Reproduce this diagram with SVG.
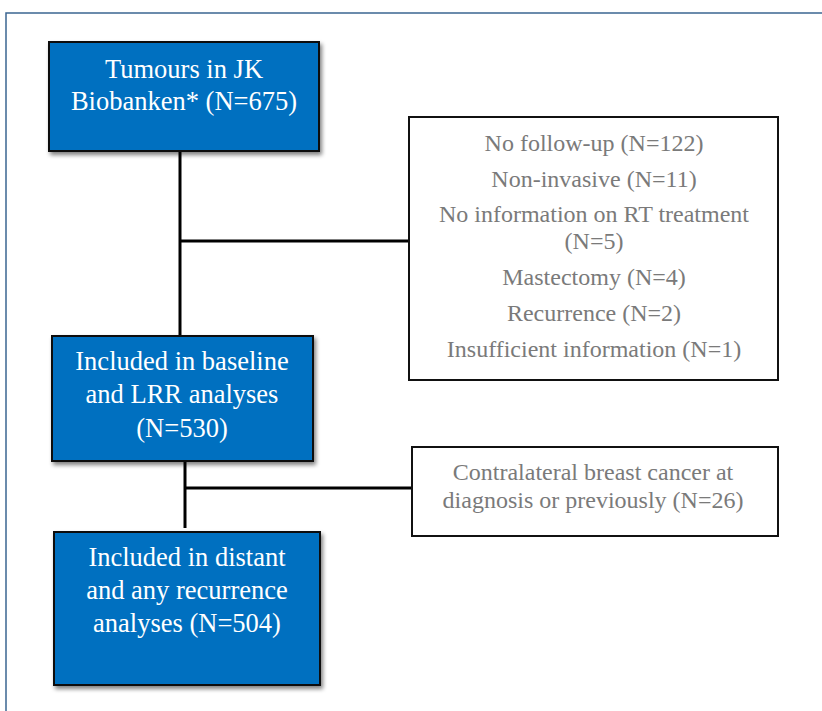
<svg xmlns="http://www.w3.org/2000/svg" width="822" height="711" viewBox="0 0 822 711">
<defs>
<filter id="sh" x="-10%" y="-10%" width="125%" height="130%">
<feGaussianBlur in="SourceAlpha" stdDeviation="2"/>
<feOffset dx="2" dy="3" result="b"/>
<feComponentTransfer><feFuncA type="linear" slope="0.5"/></feComponentTransfer>
<feMerge><feMergeNode/><feMergeNode in="SourceGraphic"/></feMerge>
</filter>
</defs>
<style>
.blue{fill:#0070C0;stroke:#111;stroke-width:2}
.white{fill:#fff;stroke:#111;stroke-width:2}
.wt{font-family:"Liberation Serif",serif;font-size:26.5px;fill:#fff;text-anchor:middle}
.gt{font-family:"Liberation Serif",serif;font-size:24px;fill:#7a7a7a;text-anchor:middle}
.conn{stroke:#000;stroke-width:3;fill:none}
</style>
<rect x="0" y="0" width="822" height="711" fill="#fff"/>
<rect x="6" y="13" width="830" height="720" fill="none" stroke="#3b6591" stroke-width="1.5"/>
<g id="connectors">
<line class="conn" x1="180" y1="151" x2="180" y2="336"/>
<line class="conn" x1="180" y1="241" x2="409" y2="241"/>
<line class="conn" x1="185" y1="461" x2="185" y2="528"/>
<line class="conn" x1="185" y1="488" x2="412" y2="488"/>
</g>
<g id="n1">
<rect class="blue" x="49" y="42" width="270" height="109" filter="url(#sh)"/>
<text class="wt" x="184" y="78">Tumours in JK</text>
<text class="wt" x="184" y="110">Biobanken* (N=675)</text>
</g>
<g id="n2">
<rect class="white" x="409" y="117" width="369" height="263"/>
<text class="gt" x="594" y="151">No follow-up (N=122)</text>
<text class="gt" x="594" y="187">Non-invasive (N=11)</text>
<text class="gt" x="594" y="222">No information on RT treatment</text>
<text class="gt" x="594" y="249">(N=5)</text>
<text class="gt" x="594" y="285">Mastectomy (N=4)</text>
<text class="gt" x="594" y="321">Recurrence (N=2)</text>
<text class="gt" x="594" y="357">Insufficient information (N=1)</text>
</g>
<g id="n3">
<rect class="blue" x="52" y="336" width="261" height="125" filter="url(#sh)"/>
<text class="wt" x="182" y="370">Included in baseline</text>
<text class="wt" x="182" y="403">and LRR analyses</text>
<text class="wt" x="182" y="437">(N=530)</text>
</g>
<g id="n4">
<rect class="blue" x="54" y="532" width="266" height="153" filter="url(#sh)"/>
<text class="wt" x="187" y="566">Included in distant</text>
<text class="wt" x="187" y="599">and any recurrence</text>
<text class="wt" x="187" y="632">analyses (N=504)</text>
</g>
<g id="n5">
<rect class="white" x="412" y="447" width="366" height="89"/>
<text class="gt" x="593" y="480">Contralateral breast cancer at</text>
<text class="gt" x="593" y="508">diagnosis or previously (N=26)</text>
</g>
</svg>
